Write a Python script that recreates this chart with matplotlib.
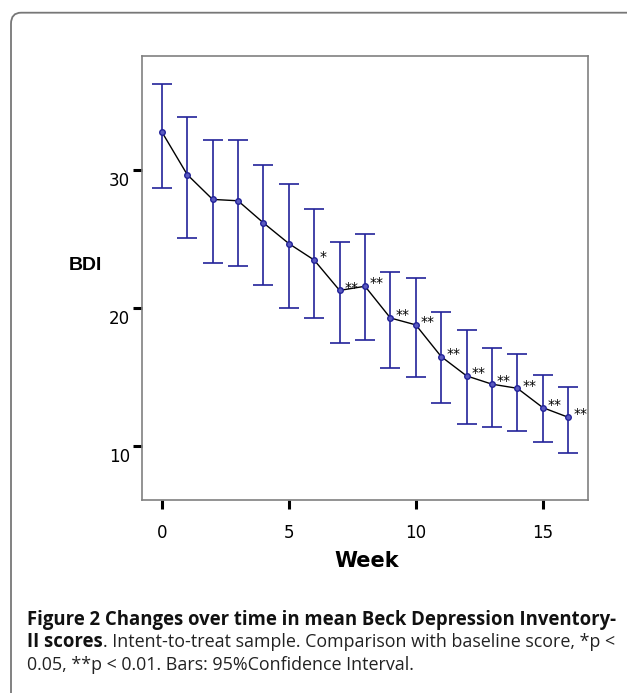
import matplotlib
matplotlib.use("Agg")
import matplotlib.pyplot as plt
from matplotlib.patches import FancyBboxPatch
from matplotlib.transforms import ScaledTranslation

# ---- data ----
weeks = [0, 1, 2, 3, 4, 5, 6, 7, 8, 9, 10, 11, 12, 13, 14, 15, 16]
means = [32.8, 29.7, 27.9, 27.8, 26.2, 24.7, 23.5, 21.3, 21.6, 19.3, 18.8, 16.5, 15.1, 14.5, 14.2, 12.8, 12.1]
upper = [36.3, 33.9, 32.2, 32.2, 30.4, 29.0, 27.2, 24.8, 25.4, 22.6, 22.2, 19.7, 18.4, 17.1, 16.7, 15.2, 14.3]
lower = [28.75, 25.1, 23.3, 23.1, 21.7, 20.0, 19.3, 17.5, 17.7, 15.7, 15.0, 13.1, 11.6, 11.4, 11.1, 10.3, 9.5]
stars = ["", "", "", "", "", "", "*", "**", "**", "**", "**", "**", "**", "**", "**", "**", "**"]
xticks = [0, 5, 10, 15]
yticks = [10, 20, 30]

W, H = 627, 693
fig = plt.figure(figsize=(W / 100, H / 100), dpi=100)

# rounded border (top and left visible)
border = FancyBboxPatch((11 / W, -0.2), 1.2, 1 - 12.7 / H + 0.2,
                        boxstyle="round,pad=0,rounding_size=0.016",
                        transform=fig.transFigure, fill=False,
                        edgecolor="#777777", linewidth=1.3, clip_on=False)
fig.patches.append(border)

ax = fig.add_axes([142 / W, 1 - 500 / H, (588 - 142) / W, (500 - 56) / H])
ax.set_xlim(-0.78, 16.78)
ax.set_ylim(6.1, 38.3)

errlo = [m - l for m, l in zip(means, lower)]
errhi = [u - m for m, u in zip(means, upper)]
bar_col = "#23239a"
ax.errorbar(weeks, means, yerr=[errlo, errhi], fmt="none", ecolor=bar_col,
            elinewidth=1.2, capsize=7.2, capthick=1.2, zorder=2)
ax.plot(weeks, means, color="black", lw=1.0, zorder=3)
ax.plot(weeks, means, "o", ms=4.0, mfc="#5a5ac0", mec=bar_col, mew=1.0,
        zorder=4)

for x, m, s in zip(weeks, means, stars):
    if s:
        ax.annotate(s, (x, m), xytext=(3.5, 2), textcoords="offset points",
                    ha="left", va="center", fontsize=10, color="black",
                    zorder=5)

for side in ["top", "right", "left", "bottom"]:
    ax.spines[side].set_color("#808080")
    ax.spines[side].set_linewidth(1.2)

ax.set_xticks(xticks)
ax.set_yticks(yticks)
ax.tick_params(axis="both", direction="out", length=6.5, width=2.2,
               color="black", labelsize=12)
ax.tick_params(axis="x", pad=11)
ax.tick_params(axis="y", pad=2)
for lab in ax.get_yticklabels():
    lab.set_transform(lab.get_transform() +
                      ScaledTranslation(0, -0.09, fig.dpi_scale_trans))

fig.text(85 / W, 1 - 265 / H, "BDI", ha="center", va="center",
         fontsize=14, fontweight="bold", family="Liberation Sans")
fig.text(367 / W, 1 - 561 / H, "Week", ha="center", va="center",
         fontsize=15, fontweight="bold", family="DejaVu Sans")

# caption
cap_font = "Open Sans"
x0 = 27 / W
bold_size = 12.0
t1 = fig.text(x0, 1 - 625 / H,
              "Figure 2 Changes over time in mean Beck Depression Inventory-",
              ha="left", va="baseline", fontsize=bold_size, fontweight="bold",
              family=cap_font, color="#111111")
fig.canvas.draw()
bold_size = bold_size * (615 - 27) / t1.get_window_extent().width
t1.set_fontsize(bold_size)

t2 = fig.text(x0, 1 - 647 / H, "II scores", ha="left", va="baseline",
              fontsize=bold_size, fontweight="bold", family=cap_font,
              color="#111111")
fig.canvas.draw()
bb = t2.get_window_extent()
reg_size = 12.0
t3 = fig.text(bb.x1 / W, 1 - 647 / H,
              ". Intent-to-treat sample. Comparison with baseline score, *p <",
              ha="left", va="baseline", fontsize=reg_size, family=cap_font,
              color="#222222")
fig.canvas.draw()
reg_size = reg_size * (612 - bb.x1) / t3.get_window_extent().width
t3.set_fontsize(reg_size)
fig.text(x0, 1 - 670 / H,
         "0.05, **p < 0.01. Bars: 95%Confidence Interval.",
         ha="left", va="baseline", fontsize=reg_size, family=cap_font,
         color="#222222")

fig.savefig("out.png", dpi=100)
